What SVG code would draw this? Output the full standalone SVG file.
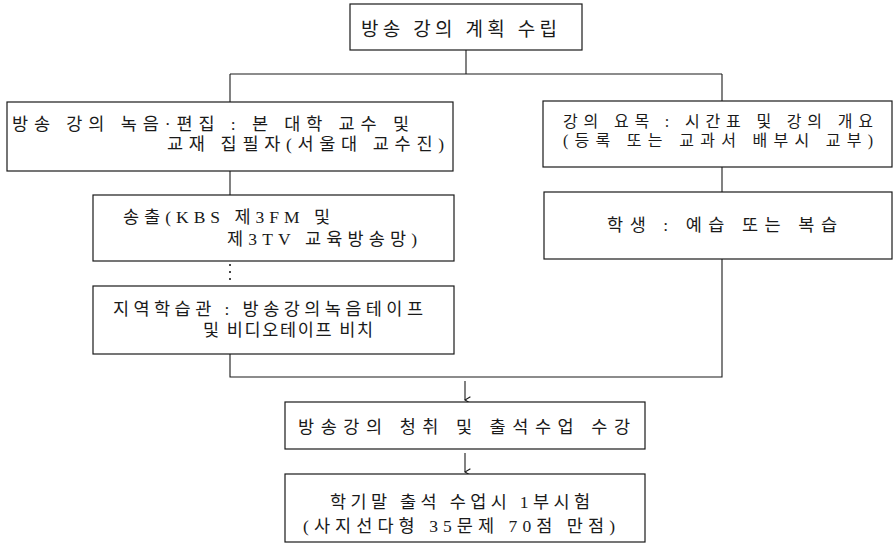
<svg xmlns="http://www.w3.org/2000/svg" width="893" height="543" viewBox="0 0 893 543">
<style>
.box{fill:#fff;stroke:#1a1a1a;stroke-width:1.2}
.ln{fill:none;stroke:#1a1a1a;stroke-width:1.1}
.dot{fill:none;stroke:#1a1a1a;stroke-width:1.6;stroke-dasharray:2,5}
text{font-family:"Liberation Serif","Noto Sans CJK KR",serif;font-size:17.5px;fill:#1a1a1a}
.sm{font-size:16px}
</style>
<defs>
<marker id="ah" viewBox="0 0 10 10" refX="5" refY="9" markerWidth="9" markerHeight="9" orient="auto-start-reverse" markerUnits="userSpaceOnUse">
<path d="M1.5,3 L5,9 L8.5,3" fill="none" stroke="#1a1a1a" stroke-width="1.3"/>
</marker>
</defs>
<rect width="893" height="543" fill="#fff"/>
<g id="connectors">
<path class="ln" d="M466,50 V74"/>
<path class="ln" d="M230,74 H722"/>
<path class="ln" d="M230,74 V102"/>
<path class="ln" d="M722,74 V101"/>
<path class="ln" d="M230,171 V195"/>
<path class="dot" d="M230,264 V284"/>
<path class="ln" d="M722,167 V192"/>
<path class="ln" d="M230,354 V377 H722 V259"/>
<path class="ln" d="M465,381 V400" marker-end="url(#ah)"/>
<path class="ln" d="M465,453 V472" marker-end="url(#ah)"/>
</g>
<g id="plan">
<rect class="box" x="350" y="4" width="232" height="46"/>
<text x="361" y="36" textLength="196" lengthAdjust="spacing" style="font-size:19px">방송 강의 계획 수립</text>
</g>
<g id="recording">
<rect class="box" x="7" y="102" width="446" height="69"/>
<text x="12" y="130" textLength="397" lengthAdjust="spacing">방송 강의 녹음·편집 : 본 대학 교수 및</text>
<text x="167" y="150" textLength="277" lengthAdjust="spacing">교재 집필자(서울대 교수진)</text>
</g>
<g id="syllabus">
<rect class="box" x="543" y="101" width="349" height="66"/>
<text class="sm" x="563" y="127" textLength="310" lengthAdjust="spacing">강의 요목 : 시간표 및 강의 개요</text>
<text class="sm" x="563" y="146" textLength="310" lengthAdjust="spacing">(등록 또는 교과서 배부시 교부)</text>
</g>
<g id="broadcast">
<rect class="box" x="93" y="195" width="361" height="66"/>
<text x="123" y="223" textLength="207" lengthAdjust="spacing">송출(KBS 제3FM 및</text>
<text x="227" y="245" textLength="190" lengthAdjust="spacing">제3TV 교육방송망)</text>
</g>
<g id="student">
<rect class="box" x="544" y="192" width="348" height="67"/>
<text x="607" y="231" textLength="230" lengthAdjust="spacing">학생 : 예습 또는 복습</text>
</g>
<g id="center">
<rect class="box" x="93" y="286" width="361" height="68"/>
<text x="113" y="315" textLength="310" lengthAdjust="spacing">지역학습관 : 방송강의녹음테이프</text>
<text x="203" y="336" textLength="170" lengthAdjust="spacing">및 비디오테이프 비치</text>
</g>
<g id="attend">
<rect class="box" x="285" y="402" width="360" height="47"/>
<text x="298" y="433" textLength="332" lengthAdjust="spacing">방송강의 청취 및 출석수업 수강</text>
</g>
<g id="exam">
<rect class="box" x="285" y="474" width="360" height="68"/>
<text x="330" y="508" textLength="260" lengthAdjust="spacing">학기말 출석 수업시 1부시험</text>
<text x="303" y="532" textLength="312" lengthAdjust="spacing">(사지선다형 35문제 70점 만점)</text>
</g>
</svg>
